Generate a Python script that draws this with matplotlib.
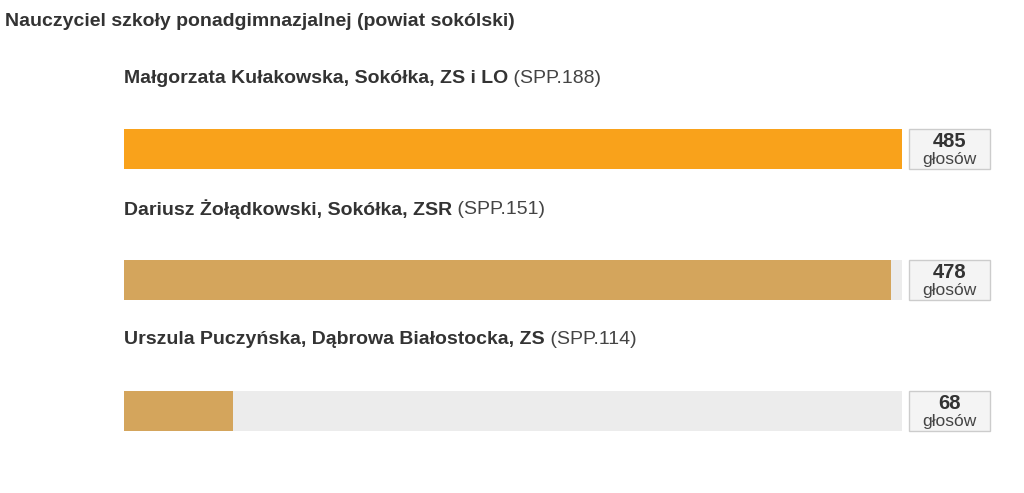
import matplotlib
matplotlib.use("Agg")
import matplotlib.pyplot as plt
from matplotlib.patches import Rectangle

plt.rcParams['font.family'] = ['Liberation Sans', 'DejaVu Sans']

title = "Nauczyciel szkoły ponadgimnazjalnej (powiat sokólski)"
names = ["Małgorzata Kułakowska, Sokółka, ZS i LO",
         "Dariusz Żołądkowski, Sokółka, ZSR",
         "Urszula Puczyńska, Dąbrowa Białostocka, ZS"]
codes = ["(SPP.188)", "(SPP.151)", "(SPP.114)"]
votes = [485, 478, 68]
unit = "głosów"

colors = ["#f9a21b", "#d4a55c", "#d4a55c"]
track = "#ececec"
txt = "#333333"

W, H = 1024, 493
fig = plt.figure(figsize=(W / 100, H / 100), dpi=100)
fig.text(5 / W, 1 - 22 / H, title, fontsize=14, fontweight='bold',
         color=txt, ha='left', va='center')

step = 131
ax = fig.add_axes([124 / W, 1 - 476.5 / H, 778 / W, 393 / H])
xmax = max(votes)
ax.set_xlim(0, xmax)
ax.set_ylim(len(votes) - 0.5, -0.5)
ax.axis('off')

bh = 40 / step
ys = list(range(len(votes)))
ax.barh(ys, [xmax] * len(votes), height=bh, color=track, left=0)
ax.barh(ys, votes, height=bh, color=colors)

for i, (n, c, v) in enumerate(zip(names, codes, votes)):
    t = ax.text(0, i - 71 / step, n, fontsize=14, fontweight='bold',
                color=txt, ha='left', va='center')
    ax.annotate(" " + c, xy=(1, 0.5), xycoords=t, fontsize=14,
                color="#444444", ha='left', va='center')
    bx = xmax * (1 + 7 / 778)
    bw = xmax * (81 / 778)
    ax.add_patch(Rectangle((bx, i - bh / 2), bw, bh, facecolor="#f4f4f4",
                           edgecolor="#cccccc", linewidth=1, clip_on=False))
    ax.text(bx + bw / 2, i - 8 / step, str(v), fontsize=14.5, fontweight='bold',
            color=txt, ha='center', va='center', clip_on=False)
    ax.text(bx + bw / 2, i + 10.5 / step, unit, fontsize=12.5,
            color="#444444", ha='center', va='center', clip_on=False)

fig.savefig("out.png", dpi=100, facecolor="white")
